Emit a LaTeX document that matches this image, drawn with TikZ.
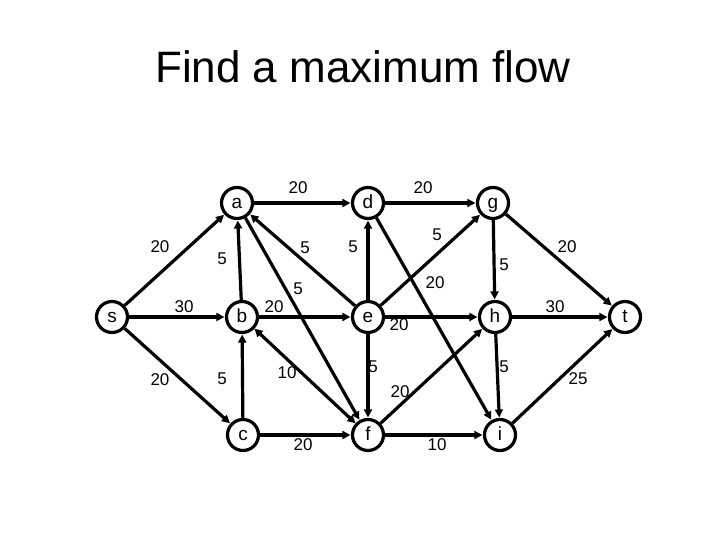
\documentclass[tikz,border=0pt]{standalone}
\usepackage{fontspec}
\setmainfont{Liberation Sans}
\usetikzlibrary{arrows.meta}
\begin{document}
\begin{tikzpicture}[x=1pt,y=-1pt,
  vtx/.style={draw,circle,line width=3.2pt,minimum size=31pt,inner sep=0pt,text height=10pt,text depth=0pt,font=\fontsize{19}{19}\selectfont},
  edge/.style={line width=3.2pt,-{Triangle[length=8pt,width=8pt]},shorten >=0.5pt},
  bedge/.style={line width=3.2pt,{Triangle[length=8pt,width=8pt]}-{Triangle[length=8pt,width=8pt]}},
  thick edge/.style={edge,line width=4.2pt},
  lbl/.style={font=\fontsize{17}{17}\selectfont,inner sep=0pt}]
\useasboundingbox (0,0) rectangle (720,540);
\node[font=\fontsize{44}{44}\selectfont,anchor=base,inner sep=0pt] (title) at (363,83) {Find a maximum flow};
% vertices
\node[vtx] (s) at (112,317) {s};
\node[vtx] (a) at (237,203) {a};
\node[vtx] (b) at (242,317) {b};
\node[vtx] (c) at (243,435) {c};
\node[vtx] (d) at (368,203) {d};
\node[vtx] (e) at (368,317) {e};
\node[vtx] (f) at (368,435) {f};
\node[vtx] (g) at (493,203) {g};
\node[vtx] (h) at (495,317) {h};
\node[vtx] (i) at (500,435) {i};
\node[vtx] (t) at (625,317) {t};
% edges
\draw[edge] (s) -- (a);
\draw[edge] (s) -- (b);
\draw[edge] (s) -- (c);
\draw[edge] (a) -- (d);
\draw[edge] (b) -- (a);
\draw[edge] (e) -- (a);
\draw[edge] (a) -- (f);
\draw[edge] (b) -- (e);
\draw[edge] (c) -- (b);
\draw[bedge] (b) -- (f);
\draw[edge] (c) -- (f);
\draw[edge] (d) -- (g);
\draw[thick edge] (e) -- (d);
\draw[edge] (d) -- (i);
\draw[edge] (e) -- (g);
\draw[edge] (e) -- (h);
\draw[thick edge] (e) -- (f);
\draw[edge] (f) -- (h);
\draw[edge] (f) -- (i);
\draw[edge] (g) -- (h);
\draw[edge] (g) -- (t);
\draw[edge] (h) -- (t);
\draw[edge] (h) -- (i);
\draw[edge] (i) -- (t);
% labels
\node[lbl] (l1) at (160,247) {20};
\node[lbl] (l2) at (222,259) {5};
\node[lbl] (l3) at (184,307) {30};
\node[lbl] (l4) at (160,380) {20};
\node[lbl] (l5) at (298,188) {20};
\node[lbl] (l6) at (305,248) {5};
\node[lbl] (l7) at (298,289) {5};
\node[lbl] (l8) at (274,307) {20};
\node[lbl] (l9) at (222,379) {5};
\node[lbl] (l10) at (287,373) {10};
\node[lbl] (l11) at (303,445) {20};
\node[lbl] (l12) at (423,188) {20};
\node[lbl] (l13) at (353,247) {5};
\node[lbl] (l14) at (437,235) {5};
\node[lbl] (l15) at (435,283) {20};
\node[lbl] (l16) at (399,325) {20};
\node[lbl] (l17) at (373,367) {5};
\node[lbl] (l18) at (400,392) {20};
\node[lbl] (l19) at (437,445) {10};
\node[lbl] (l20) at (504,265) {5};
\node[lbl] (l21) at (567,247) {20};
\node[lbl] (l22) at (555,307) {30};
\node[lbl] (l23) at (504,367) {5};
\node[lbl] (l24) at (578,379) {25};
\end{tikzpicture}
\end{document}
